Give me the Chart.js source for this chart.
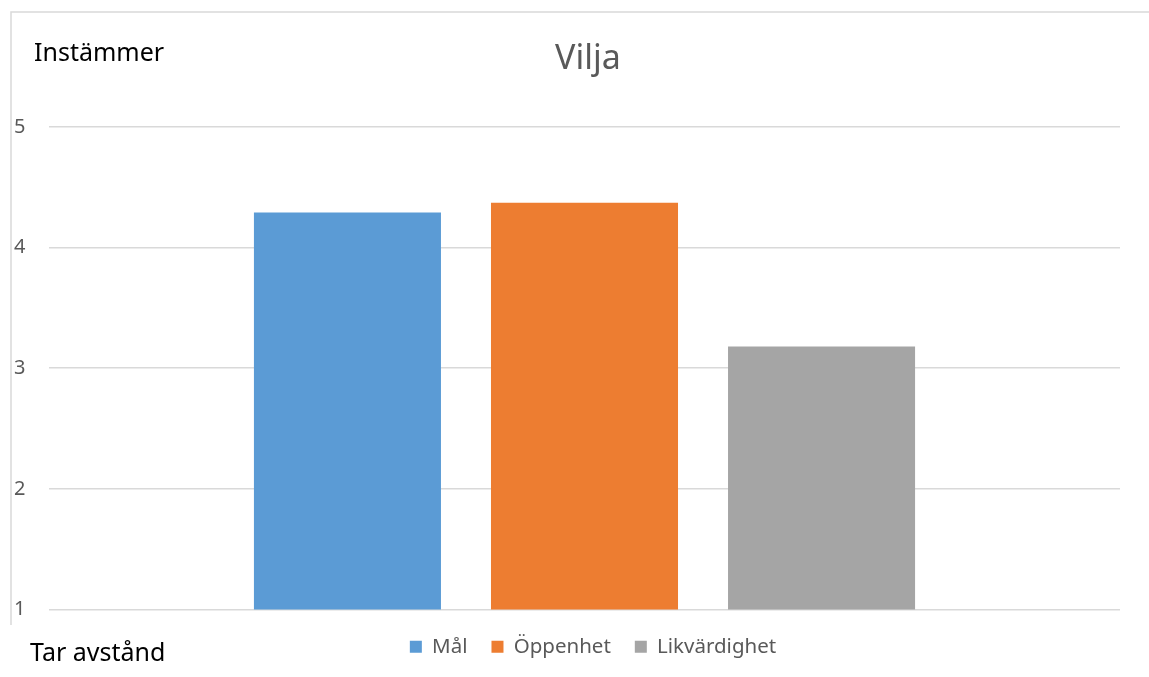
<!DOCTYPE html>
<html lang="sv">
<head>
<meta charset="UTF-8">
<title>Vilja</title>
<script src="https://cdn.jsdelivr.net/npm/chart.js"></script>
<style>
  html, body { margin: 0; padding: 0; background: #fff; }
  #wrap { width: 1149px; height: 677px; position: relative; }
</style>
</head>
<body>
<div id="wrap"><canvas id="chart"></canvas></div>
<script>
// data
const categories = [''];
const seriesNames = ['Mål', 'Öppenhet', 'Likvärdighet'];
const seriesValues = [[4.29], [4.37], [3.18]];
const seriesColors = ['#5B9BD5', '#ED7D31', '#A5A5A5'];
const yTicks = [1, 2, 3, 4, 5];
const topNote = 'Instämmer';
const bottomNote = 'Tar avstånd';

const font = '"Noto Sans", "Open Sans", sans-serif';

// frame lines + the two side notes
const extras = {
  id: 'extras',
  afterLayout(chart) {
    // title and legend sit centred on the plot, not the canvas
    const t = chart.titleBlock, l = chart.legend;
    t.left += 21; t.right += 21;
    l.left += 26; l.right += 26;
    l.top += 3; l.bottom += 3;
  },
  afterDraw(chart) {
    const c = chart.ctx;
    c.save();
    c.strokeStyle = '#d9d9d9';
    c.lineWidth = 1.5;
    c.beginPath();
    c.moveTo(11, 625);
    c.lineTo(11, 12);
    c.lineTo(chart.width, 12);
    c.stroke();
    c.fillStyle = '#000';
    c.font = '25px ' + font;
    c.textBaseline = 'middle';
    c.textAlign = 'left';
    c.fillText(topNote, 34, 54);
    c.fillText(bottomNote, 30, 654);
    c.restore();
  }
};

new Chart(document.getElementById('chart'), {
  type: 'bar',
  data: {
    labels: categories,
    datasets: seriesNames.map((name, i) => ({
      label: name,
      data: seriesValues[i],
      backgroundColor: seriesColors[i],
      borderWidth: 0,
      categoryPercentage: 0.664,
      barPercentage: 0.789
    }))
  },
  options: {
    responsive: true,
    maintainAspectRatio: false,
    animation: false,
    layout: { padding: { left: 14, right: 29, top: 0, bottom: 13 } },
    plugins: {
      title: {
        display: true,
        text: 'Vilja',
        color: '#595959',
        font: { family: font, size: 34, weight: 'normal' },
        padding: { top: 39, bottom: 47 }
      },
      legend: {
        position: 'bottom',
        labels: {
          color: '#595959',
          font: { family: font, size: 20.5 },
          boxWidth: 12,
          boxHeight: 12,
          padding: 24
        }
      },
      tooltip: { enabled: false }
    },
    scales: {
      x: { display: false },
      y: {
        min: 1,
        max: 5,
        afterBuildTicks(axis) { axis.ticks = yTicks.map(v => ({ value: v })); },
        afterFit(axis) { axis.width = 35; },
        border: { display: false },
        grid: { color: '#d9d9d9', lineWidth: 1.5, drawTicks: false },
        ticks: {
          color: '#595959',
          font: { family: font, size: 20 },
          crossAlign: 'far',
          padding: 24
        }
      }
    }
  },
  plugins: [extras]
});
</script>
</body>
</html>
